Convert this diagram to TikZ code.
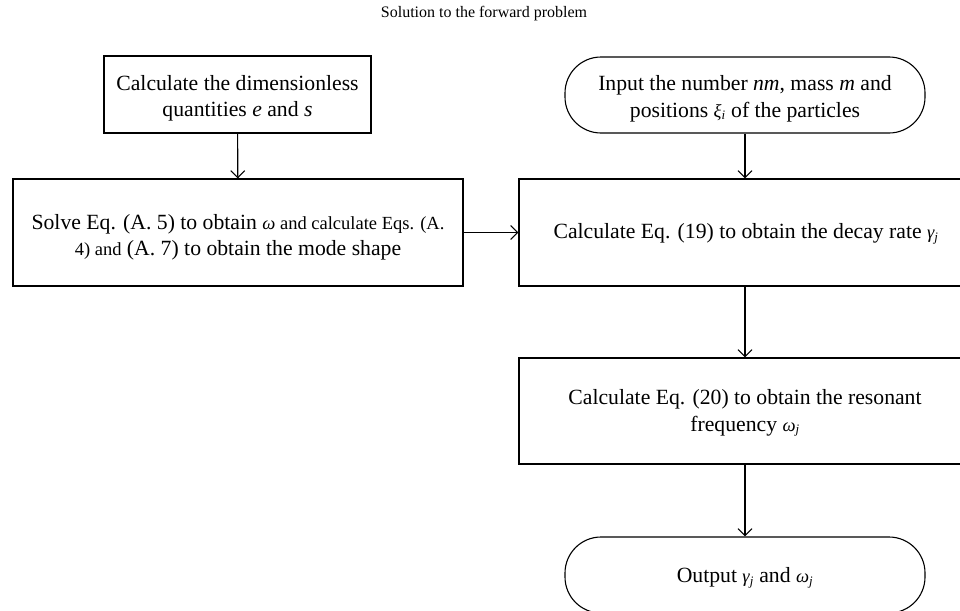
\documentclass[tikz,border=0pt]{standalone}
\usepackage{fontspec}
\setmainfont{Liberation Serif}
\usetikzlibrary{arrows.meta}
\newcommand{\gr}[1]{{\itshape #1}}
\newcommand{\sbi}[2]{{\itshape #1}\textsubscript{\itshape #2}}
\newcommand{\sm}{\fontsize{18.5}{25}\selectfont}
\begin{document}
\begin{tikzpicture}[x=1pt,y=-1pt,
  every node/.style={font=\fontsize{21.7}{25}\selectfont, inner sep=0pt, align=center},
  box/.style={draw, line width=1.1pt},
  term/.style={draw, line width=1.1pt, rounded corners=36pt},
  arr/.style={line width=1.1pt, -{Straight Barb[length=7pt,width=14pt,line width=1.1pt]}}]
\useasboundingbox (0,0) rectangle (960,610);
\clip (0,0) rectangle (960,610);
\node (title) at (484,14) {\fontsize{16}{20}\selectfont Solution to the forward problem};
\node[box, minimum width=267pt, minimum height=77pt] (calc) at (237.5,94.5) {};
\node[font=\fontsize{21.7}{26}\selectfont] (calct) at (237.5,98)
  {Calculate the dimensionless\\quantities \textit{e} and \textit{s}};
\node[box, minimum width=450pt, minimum height=107pt] (solve) at (238,232.5) {};
\node[font=\fontsize{21.7}{26}\selectfont] (solvet) at (238,237)
  {Solve Eq. (A. 5) to obtain {\sm \gr{ω} and calculate Eqs. (A.}\\
   {\sm 4) and} (A. 7) to obtain the mode shape};
\node[term, minimum width=360pt, minimum height=76pt] (input) at (745,95) {};
\node[font=\fontsize{21.7}{27}\selectfont] (inputt) at (745,98.5)
  {Input the number \textit{nm}, mass \textit{m} and\\positions {\sm\sbi{ξ}{i}} of the particles};
\node[box, minimum width=452pt, minimum height=107pt] (decay) at (745,232.5) {};
\node (decayt) at (746,234)
  {Calculate Eq. (19) to obtain the decay rate {\sm\sbi{γ}{j}}};
\node[box, minimum width=452pt, minimum height=106pt] (freq) at (745,411) {};
\node[font=\fontsize{21.7}{27}\selectfont] (freqt) at (745,413)
  {Calculate Eq. (20) to obtain the resonant\\frequency {\sm\sbi{ω}{j}}};
\node[term, minimum width=360pt, minimum height=76pt] (out) at (745,575) {};
\node (outt) at (745,578)
  {Output {\sm\sbi{γ}{j}} and {\sm\sbi{ω}{j}}};
\draw[arr] (calc) -- (solve);
\draw[arr] (input) -- (decay);
\draw[arr] (solve) -- (decay);
\draw[arr] (decay) -- (freq);
\draw[arr] (freq) -- (out);
\end{tikzpicture}
\end{document}
